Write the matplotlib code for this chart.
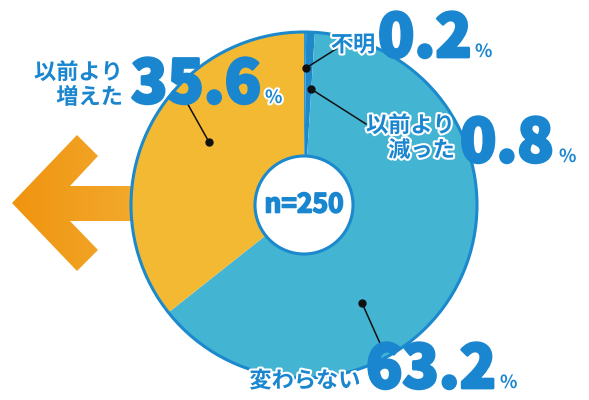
import matplotlib
matplotlib.use("Agg")
import matplotlib.pyplot as plt
import matplotlib.patheffects as pe
from matplotlib.patches import Polygon, Circle
import numpy as np

plt.rcParams['font.family'] = ['Noto Sans CJK JP', 'DejaVu Sans']

# data
labels = ["不明", "以前より\n減った", "変わらない", "以前より\n増えた"]
values = [0.2, 0.8, 63.2, 35.6]
colors = ["#2C97D2", "#1F88C8", "#44B4D3", "#F3B933"]
n_text = "n=250"

BLUE = "#1A86CF"
W, H = 589, 400

fig = plt.figure(figsize=(W / 100, H / 100), dpi=100)
ax = fig.add_axes([0, 0, 1, 1])

cx, cy, R = 304, 400 - 205, 173

# arrow behind the pie (orange gradient)
arrow_pts = [(12, 203), (77, 135), (98, 156), (70, 186), (200, 186),
             (200, 221), (70, 221), (98, 250), (77, 271)]
arrow_pts = [(x, 400 - y) for x, y in arrow_pts]
arrow = Polygon(arrow_pts, closed=True, facecolor="none", edgecolor="none")
ax.add_patch(arrow)
grad = np.linspace(0, 1, 256).reshape(1, -1)
cmap = matplotlib.colors.LinearSegmentedColormap.from_list("o", ["#F0930F", "#F3B53C"])
im = ax.imshow(grad, extent=(10, 200, 400 - 272, 400 - 134), cmap=cmap,
               aspect="auto", zorder=1)
im.set_clip_path(arrow)

# donut
wedges, _ = ax.pie(values, colors=colors, startangle=90, counterclock=False,
                   center=(cx, cy), radius=R,
                   wedgeprops=dict(width=R, edgecolor="none", linewidth=0))
for w in wedges:
    w.set_zorder(2)
ax.add_patch(Circle((cx, cy), R, facecolor="none", edgecolor="#1B89CC",
                    linewidth=2.2, zorder=3))
ax.add_patch(Circle((cx, cy), 49, facecolor="white", edgecolor="#1B89CC",
                    linewidth=2.2, zorder=4))
ax.text(cx, cy, n_text, ha="center", va="center", fontsize=19,
        fontweight="bold", color=BLUE, zorder=5,
        path_effects=[pe.withStroke(linewidth=1.2, foreground=BLUE)])

# leader lines
leaders = [((306, 68), (336, 49)),
           ((311, 89), (366, 124)),
           ((209, 142), (186, 101)),
           ((362, 303), (383, 350))]
for (x0, y0), (x1, y1) in leaders:
    ax.plot([x0, x1], [400 - y0, 400 - y1], color="#111111", lw=1.1, zorder=5)
    ax.plot(x0, 400 - y0, "o", color="#111111", ms=5, zorder=5)

stroke = [pe.withStroke(linewidth=3, foreground="white")]
lab_kw = dict(color=BLUE, fontsize=16, fontweight="bold", zorder=6,
              path_effects=stroke, linespacing=1.1)
num_kw = dict(color=BLUE, fontsize=43, fontweight="black", zorder=6,
              va="baseline",
              path_effects=[pe.withStroke(linewidth=2, foreground=BLUE)])
pct_kw = dict(color=BLUE, fontsize=13, fontweight="bold", zorder=6,
              va="baseline", path_effects=stroke)

# label positions: (label x, label y, ha, number x, number baseline, pct x)
places = [(353, 45, "center", 378, 57, 475),
          (455, 138, "right", 460, 162, 559),
          (305, 381, "center", 366, 388, 500),
          (123, 85, "right", 131, 103, 265)]
for lab, v, (lx, ly, ha, nx, ny, px) in zip(labels, values, places):
    ax.text(lx, 400 - ly, lab, ha=ha, va="center", multialignment="right", **lab_kw)
    ax.text(nx, 400 - ny, f"{v:.1f}", ha="left", **num_kw)
    ax.text(px, 400 - ny, "%", ha="left", **pct_kw)

ax.set_xlim(0, W)
ax.set_ylim(0, H)
ax.set_aspect("auto")
ax.axis("off")
fig.savefig("out.png", dpi=100)
